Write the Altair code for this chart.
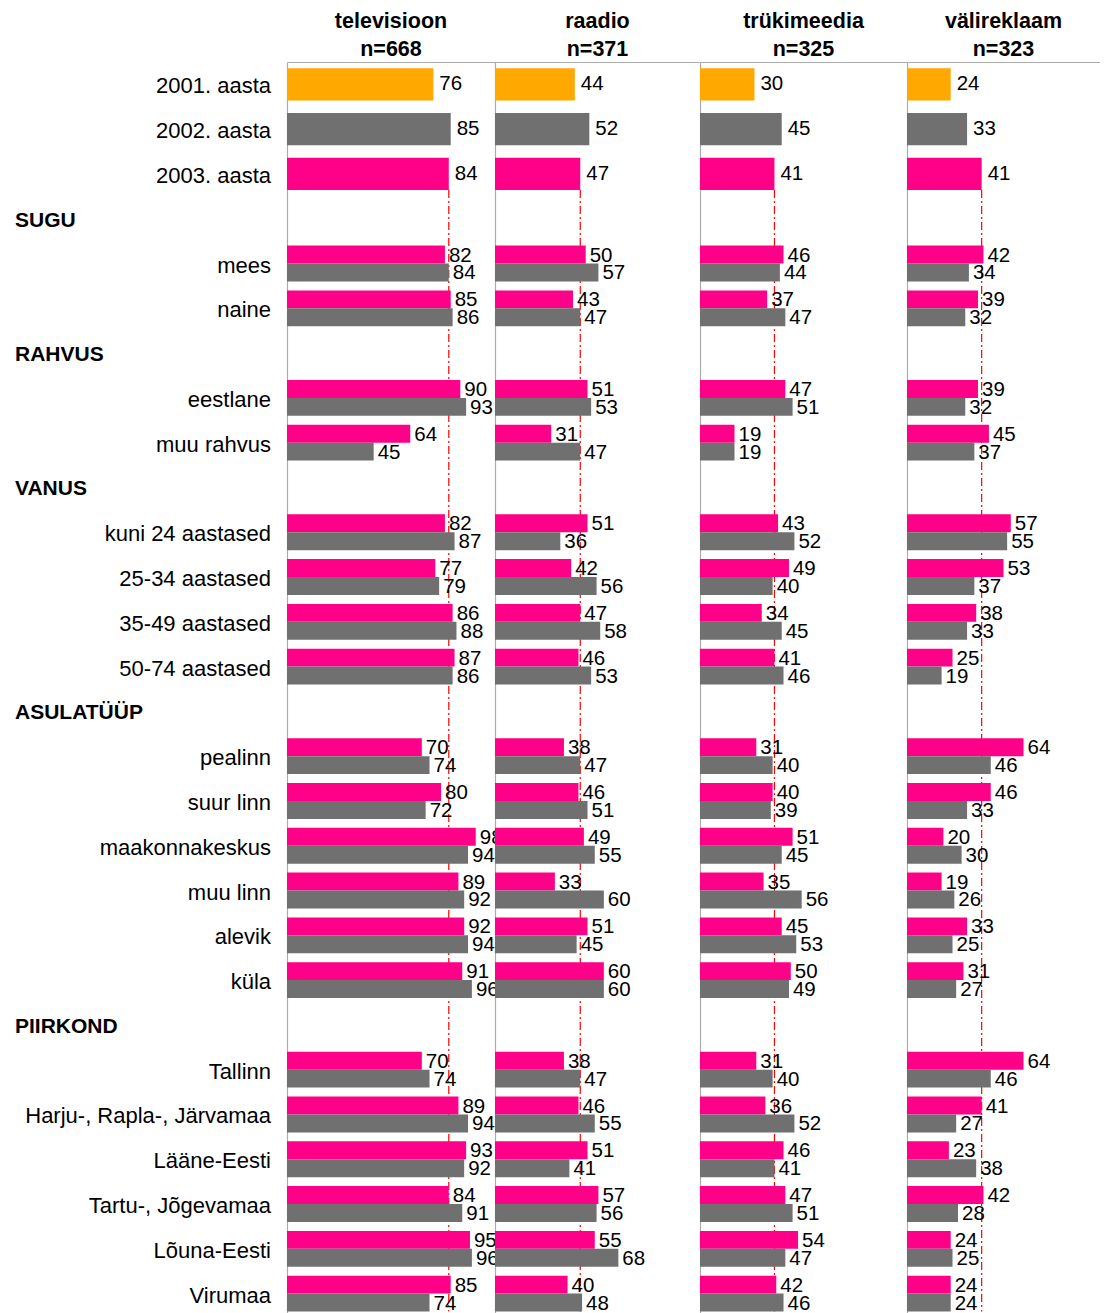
import altair as alt
import pandas as pd

# ---------------- data ----------------
rows = ["2001. aasta", "2002. aasta", "2003. aasta",
        "SUGU", "mees", "naine",
        "RAHVUS", "eestlane", "muu rahvus",
        "VANUS", "kuni 24 aastased", "25-34 aastased", "35-49 aastased", "50-74 aastased",
        "ASULATÜÜP", "pealinn", "suur linn", "maakonnakeskus", "muu linn", "alevik", "küla",
        "PIIRKOND", "Tallinn", "Harju-, Rapla-, Järvamaa", "Lääne-Eesti",
        "Tartu-, Jõgevamaa", "Lõuna-Eesti", "Virumaa"]
group_headers = ["SUGU", "RAHVUS", "VANUS", "ASULATÜÜP", "PIIRKOND"]
year_rows = ["2001. aasta", "2002. aasta", "2003. aasta"]
year_series = ["2001", "2002", "2003"]
sub_rows = ["mees", "naine", "eestlane", "muu rahvus",
            "kuni 24 aastased", "25-34 aastased", "35-49 aastased", "50-74 aastased",
            "pealinn", "suur linn", "maakonnakeskus", "muu linn", "alevik", "küla",
            "Tallinn", "Harju-, Rapla-, Järvamaa", "Lääne-Eesti",
            "Tartu-, Jõgevamaa", "Lõuna-Eesti", "Virumaa"]

media = ["televisioon", "raadio", "trükimeedia", "välireklaam"]
n_labels = ["n=668", "n=371", "n=325", "n=323"]

# totals per year (2001, 2002, 2003)
tv_years = [76, 85, 84]
radio_years = [44, 52, 47]
print_years = [30, 45, 41]
outdoor_years = [24, 33, 41]

# sub-groups: 2003 (pink) and 2002 (grey)
tv_2003 = [82, 85, 90, 64, 82, 77, 86, 87, 70, 80, 98, 89, 92, 91, 70, 89, 93, 84, 95, 85]
tv_2002 = [84, 86, 93, 45, 87, 79, 88, 86, 74, 72, 94, 92, 94, 96, 74, 94, 92, 91, 96, 74]
radio_2003 = [50, 43, 51, 31, 51, 42, 47, 46, 38, 46, 49, 33, 51, 60, 38, 46, 51, 57, 55, 40]
radio_2002 = [57, 47, 53, 47, 36, 56, 58, 53, 47, 51, 55, 60, 45, 60, 47, 55, 41, 56, 68, 48]
print_2003 = [46, 37, 47, 19, 43, 49, 34, 41, 31, 40, 51, 35, 45, 50, 31, 36, 46, 47, 54, 42]
print_2002 = [44, 47, 51, 19, 52, 40, 45, 46, 40, 39, 45, 56, 53, 49, 40, 52, 41, 51, 47, 46]
outdoor_2003 = [42, 39, 39, 45, 57, 53, 38, 25, 64, 46, 20, 19, 33, 31, 64, 41, 23, 42, 24, 24]
outdoor_2002 = [34, 32, 32, 37, 55, 37, 33, 19, 46, 33, 30, 26, 25, 27, 46, 27, 38, 28, 25, 24]

years_by_medium = [tv_years, radio_years, print_years, outdoor_years]
s2003_by_medium = [tv_2003, radio_2003, print_2003, outdoor_2003]
s2002_by_medium = [tv_2002, radio_2002, print_2002, outdoor_2002]

# ---------------- styling ----------------
FONT = "Liberation Sans"
ORANGE = "#FFA800"
GREY = "#707070"
PINK = "#FF0088"
AXIS_GREY = "#ABABAB"
PANEL_W = [208, 205, 207, 193]
X_MAX = [108, 113, 114, 106]
PLOT_H = 1254
LABEL_W = 279

y_scale = alt.Scale(type="band", domain=rows, paddingInner=0.2, paddingOuter=0.1)
color_scale = alt.Scale(domain=year_series, range=[ORANGE, GREY, PINK])


def panel(i):
    m = media[i]
    single = pd.DataFrame({"row": year_rows, "series": year_series,
                           "value": years_by_medium[i]})
    pair = pd.concat([
        pd.DataFrame({"row": sub_rows, "series": "2003", "value": s2003_by_medium[i]}),
        pd.DataFrame({"row": sub_rows, "series": "2002", "value": s2002_by_medium[i]}),
    ], ignore_index=True)
    rule_df = pd.DataFrame({"value": [years_by_medium[i][2]],
                            "ystart": ["2003. aasta"], "yend": [rows[-1]]})

    xsc = alt.Scale(domain=[0, X_MAX[i]], nice=False, zero=True)
    x_enc = alt.X("value:Q", scale=xsc,
                  axis=alt.Axis(orient="top", domain=True, domainColor=AXIS_GREY,
                                domainWidth=1.2, labels=False, ticks=False,
                                grid=False, title=None))
    y_enc = alt.Y("row:N", scale=y_scale, sort=rows,
                  axis=alt.Axis(domain=True, domainColor=AXIS_GREY, domainWidth=1.2,
                                labels=False, ticks=False, grid=False, title=None))
    color = alt.Color("series:N", scale=color_scale, legend=None)
    yoff = alt.YOffset("series:N", sort=["2003", "2002"],
                       scale=alt.Scale(domain=["2003", "2002"], paddingInner=0, paddingOuter=0))

    rule = alt.Chart(rule_df).mark_rule(color="#FF0000", strokeWidth=1.2,
                                        strokeDash=[8, 3, 2, 3]).encode(
        x=alt.X("value:Q", scale=xsc),
        y=alt.Y("ystart:N", scale=y_scale, bandPosition=0.95),
        y2=alt.Y2("yend:N", bandPosition=1),
    )
    bars_single = alt.Chart(single).mark_bar(height={"band": 0.9}).encode(
        x=x_enc, y=y_enc, color=color)
    bars_pair = alt.Chart(pair).mark_bar().encode(
        x=x_enc, y=y_enc, yOffset=yoff, color=color)
    txt_single = alt.Chart(single).mark_text(
        align="left", baseline="middle", dx=6, dy=0, fontSize=20.5, font=FONT,
        color="#000000").encode(x=x_enc, y=y_enc, text=alt.Text("value:Q"))
    txt_pair = alt.Chart(pair).mark_text(
        align="left", baseline="middle", dx=4, dy=1, fontSize=20.5, font=FONT,
        color="#000000").encode(x=x_enc, y=y_enc, yOffset=yoff, text=alt.Text("value:Q"))

    return alt.layer(rule, bars_single, bars_pair, txt_single, txt_pair).properties(
        width=PANEL_W[i], height=PLOT_H,
        title=alt.TitleParams([m, n_labels[i]], fontSize=21.5, fontWeight="bold",
                              font=FONT, anchor="middle", color="#000000",
                              lineHeight=27.5, offset=2),
    )


lab_df = pd.DataFrame({"row": rows,
                       "kind": ["header" if r in group_headers else "item" for r in rows]})
lab_y = alt.Y("row:N", scale=y_scale, sort=rows, axis=None)
header_text = alt.Chart(lab_df).transform_filter(alt.datum.kind == "header").mark_text(
    align="left", baseline="middle", dy=2, fontSize=21, fontWeight="bold", font=FONT,
    color="#000000").encode(x=alt.value(7), y=lab_y, text="row:N")
item_text = alt.Chart(lab_df).transform_filter(alt.datum.kind == "item").mark_text(
    align="right", baseline="middle", dy=2, fontSize=22, font=FONT,
    color="#000000").encode(x=alt.value(LABEL_W - 16), y=lab_y, text="row:N")
labels = alt.layer(header_text, item_text).properties(width=LABEL_W, height=PLOT_H)

chart = alt.hconcat(labels, *[panel(i) for i in range(4)], spacing=0, bounds="flush").properties(
    padding={"top": 3, "left": 0, "right": 0, "bottom": 0}
).configure_view(stroke=None).resolve_scale(x="independent")

chart.save("out.html", embed_options={"renderer": "svg", "actions": False})
